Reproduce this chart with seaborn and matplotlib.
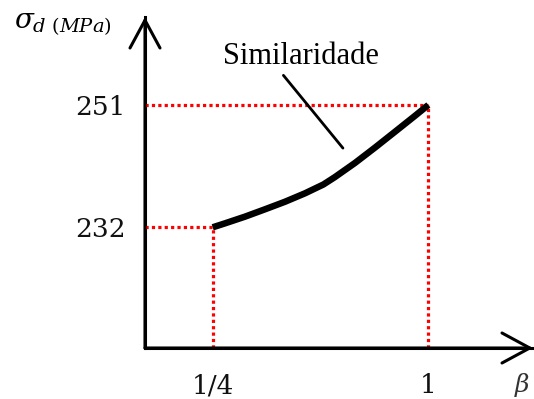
import matplotlib
matplotlib.use("Agg")
import matplotlib.pyplot as plt
import seaborn as sns
import pandas as pd

# Stress curve sigma_d versus similarity factor beta
beta = [0.25, 0.293, 0.362, 0.432, 0.502, 0.571, 0.635, 0.675,
        0.745, 0.815, 0.884, 0.954, 1.0]
sigma = [232.0, 232.62, 233.65, 234.80, 235.98, 237.28, 238.65, 239.8,
         242.0, 244.4, 246.84, 249.33, 251.0]

# Marked reference points and their tick labels
marked_beta = [0.25, 1.0]
marked_sigma = [232, 251]
xtick_labels = ["1/4", "1"]
ytick_labels = ["232", "251"]

curve_label = "Similaridade"

sns.set_theme(style="white")
plt.rcParams["font.family"] = ["DejaVu Serif", "DejaVu Sans"]
plt.rcParams["mathtext.fontset"] = "dejavuserif"

W, H = 534, 399
fig = plt.figure(figsize=(W / 100, H / 100), dpi=100)
ax = fig.add_axes([145 / W, 51 / H, (533 - 145) / W, (348 - 17) / H])

x0, x1 = 0.0146, 1.364
y0, y1 = 213.26, 264.66
ax.set_xlim(x0, x1)
ax.set_ylim(y0, y1)

df = pd.DataFrame({"beta": beta, "sigma": sigma})
sns.lineplot(data=df, x="beta", y="sigma", ax=ax, color="black",
             linewidth=4.7, solid_capstyle="butt", solid_joinstyle="round",
             zorder=4)

# Red dotted guides to the axes
dot = (0, (1, 1))
for bx, sy in zip(marked_beta, marked_sigma):
    ax.plot([x0, bx], [sy, sy], color="#ff0000", linewidth=2.3,
            linestyle=dot, zorder=3)
    ax.plot([bx, bx], [y0, sy], color="#ff0000", linewidth=2.3,
            linestyle=dot, zorder=3)

# Axes drawn as arrows
for spine in ax.spines.values():
    spine.set_visible(False)
arrow = dict(arrowstyle="->,head_length=0.5,head_width=0.27", lw=2.2,
             color="black", shrinkA=0, shrinkB=0, mutation_scale=40)
ax.annotate("", xy=(0, 1), xytext=(0, 0), xycoords="axes fraction",
            textcoords="axes fraction", arrowprops=arrow, annotation_clip=False)
ax.annotate("", xy=(1, 0), xytext=(0, 0), xycoords="axes fraction",
            textcoords="axes fraction", arrowprops=arrow, annotation_clip=False)
ax.plot([0, 0], [0, 1], transform=ax.transAxes, color="black", lw=2.2,
        solid_capstyle="projecting", clip_on=False)
ax.plot([0, 1], [0, 0], transform=ax.transAxes, color="black", lw=2.2,
        solid_capstyle="projecting", clip_on=False)

ax.set_xticks(marked_beta, xtick_labels)
ax.set_yticks(marked_sigma, ytick_labels)
ax.tick_params(axis="both", length=0, labelsize=19, colors="#111111")
ax.tick_params(axis="x", pad=18)
ax.tick_params(axis="y", pad=14)
ax.set_xlabel("")
ax.set_ylabel("")

# Curve label with leader line
ax.text(0.558, 258.6, curve_label, ha="center", va="center", fontsize=22,
        family="Liberation Serif", color="black")
ax.annotate("", xy=(0.703, 244.3), xytext=(0.496, 255.6),
            arrowprops=dict(arrowstyle="-", lw=2.0, color="black",
                            shrinkA=0, shrinkB=0))

# Axis titles
fig.text(14 / W, 1 - 28 / H, r"$\sigma_{d\ (MPa)}$", fontsize=20,
         ha="left", va="baseline", color="black")
fig.text(522 / W, 1 - 385 / H, r"$\beta$", fontsize=18, ha="center",
         va="center", color="#333333")

fig.savefig("out.png", dpi=100)
